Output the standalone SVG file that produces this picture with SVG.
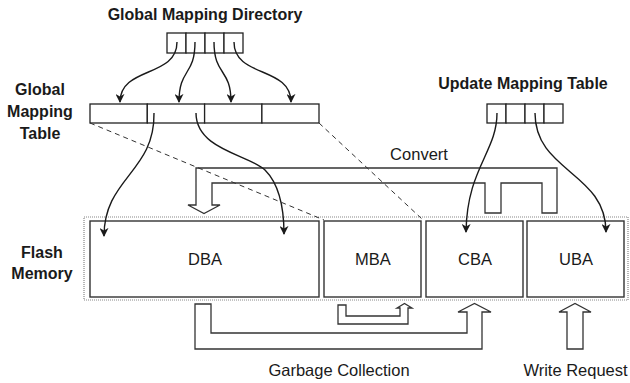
<svg xmlns="http://www.w3.org/2000/svg" width="630" height="383" viewBox="0 0 630 383">
  <defs>
    <marker id="head" viewBox="0 0 10 10" refX="9" refY="5" markerWidth="9" markerHeight="9" markerUnits="userSpaceOnUse" orient="auto">
      <path d="M0,0 L10,5 L0,10 L3,5 Z" fill="#1a1a1a"/>
    </marker>
  </defs>
  <style>
    .title { font-family: "Liberation Sans", Arial, sans-serif; font-weight: bold; font-size: 16px; fill: #1a1a1a; text-anchor: middle; }
    .label { font-family: "Liberation Sans", Arial, sans-serif; font-size: 16.5px; fill: #1a1a1a; text-anchor: middle; }
    .cell { fill: #fff; stroke: #222; stroke-width: 1.3; }
    .block { fill: #fff; stroke: #333; stroke-width: 1.4; }
    .frame { fill: none; stroke: #888; stroke-width: 1.2; stroke-dasharray: 1 1; }
    .bigarrow { fill: #fff; stroke: #333; stroke-width: 1.3; stroke-linejoin: miter; }
    .link { fill: none; stroke: #1a1a1a; stroke-width: 1.4; marker-end: url(#head); }
    .dash { fill: none; stroke: #333; stroke-width: 1; stroke-dasharray: 5 4; }
  </style>

  <rect width="630" height="383" fill="#fff"/>

  <!-- side and top captions -->
  <text class="title" x="205" y="20">Global Mapping Directory</text>
  <text class="title" x="523" y="89">Update Mapping Table</text>
  <g id="gmt-label">
    <text class="title" x="40" y="95">Global</text>
    <text class="title" x="40" y="117">Mapping</text>
    <text class="title" x="40" y="139">Table</text>
  </g>
  <g id="flash-label">
    <text class="title" x="42" y="258">Flash</text>
    <text class="title" x="42" y="279">Memory</text>
  </g>

  <!-- global mapping directory -->
  <g id="gmd">
    <rect class="cell" x="167" y="33" width="19" height="20"/>
    <rect class="cell" x="186" y="33" width="19" height="20"/>
    <rect class="cell" x="205" y="33" width="19" height="20"/>
    <rect class="cell" x="224" y="33" width="19" height="20"/>
  </g>

  <!-- global mapping table -->
  <g id="gmt">
    <rect class="cell" x="90" y="104" width="57.3" height="19"/>
    <rect class="cell" x="147.3" y="104" width="57.3" height="19"/>
    <rect class="cell" x="204.6" y="104" width="57.3" height="19"/>
    <rect class="cell" x="261.9" y="104" width="57.1" height="19"/>
  </g>

  <!-- update mapping table -->
  <g id="umt">
    <rect class="cell" x="487" y="104" width="19" height="19"/>
    <rect class="cell" x="506" y="104" width="19" height="19"/>
    <rect class="cell" x="525" y="104" width="19" height="19"/>
    <rect class="cell" x="544" y="104" width="19" height="19"/>
  </g>

  <!-- convert flow -->
  <g id="convert">
    <path class="bigarrow" d="M196,168 L557,168 L557,213 L542,213 L542,183 L501,183 L501,213 L485,213 L485,183 L212,183 L212,205 L220,205 L204,213.5 L188,205 L196,205 Z"/>
    <text class="label" x="419" y="160">Convert</text>
  </g>

  <!-- flash memory -->
  <g id="flash">
    <rect class="frame" x="84" y="217" width="544" height="83"/>
  </g>
  <g id="dba">
    <rect class="block" x="90" y="221" width="229" height="76"/>
    <text class="label" x="205" y="265">DBA</text>
  </g>
  <g id="mba">
    <rect class="block" x="324" y="221" width="97" height="76"/>
    <text class="label" x="373" y="265">MBA</text>
  </g>
  <g id="cba">
    <rect class="block" x="426" y="221" width="97" height="76"/>
    <text class="label" x="475" y="265">CBA</text>
  </g>
  <g id="uba">
    <rect class="block" x="527" y="221" width="97" height="76"/>
    <text class="label" x="576" y="265">UBA</text>
  </g>

  <!-- garbage collection and write request -->
  <g id="gc">
    <path class="bigarrow" d="M195,304 L211,304 L211,333 L467,333 L467,312 L458,312 L474.5,303.5 L491,312 L482,312 L482,349 L195,349 Z"/>
    <path class="bigarrow" d="M338,305 L346,305 L346,316 L400,316 L400,308 L397,308 L404.5,303.5 L412,308 L408,308 L408,324 L338,324 Z"/>
    <text class="label" x="339" y="376">Garbage Collection</text>
  </g>
  <g id="write">
    <path class="bigarrow" d="M567,349 L567,312 L559,312 L575,303.5 L591,312 L583,312 L583,349 Z"/>
    <text class="label" x="575.5" y="376">Write Request</text>
  </g>

  <!-- connectors -->
  <g id="connectors">
    <path class="link" d="M177,42 C177,78 120,66 120,102"/>
    <path class="link" d="M195,42 C195,76 179,68 179,102"/>
    <path class="link" d="M214,42 C214,76 231,68 231,102"/>
    <path class="link" d="M234,42 C234,78 291,66 291,102"/>

    <path class="link" d="M154,113 C155,172 104,178 104,236"/>
    <path class="link" d="M196,113 C196,150 250,155 265,170 C280,185 284,210 284,234"/>

    <path class="link" d="M497,113 C497,152 467,168 466,232"/>
    <path class="link" d="M535,113 C535,172 606,172 606,232"/>

    <line class="dash" x1="90" y1="123" x2="324" y2="220"/>
    <line class="dash" x1="319" y1="123" x2="422" y2="219"/>
  </g>
</svg>
